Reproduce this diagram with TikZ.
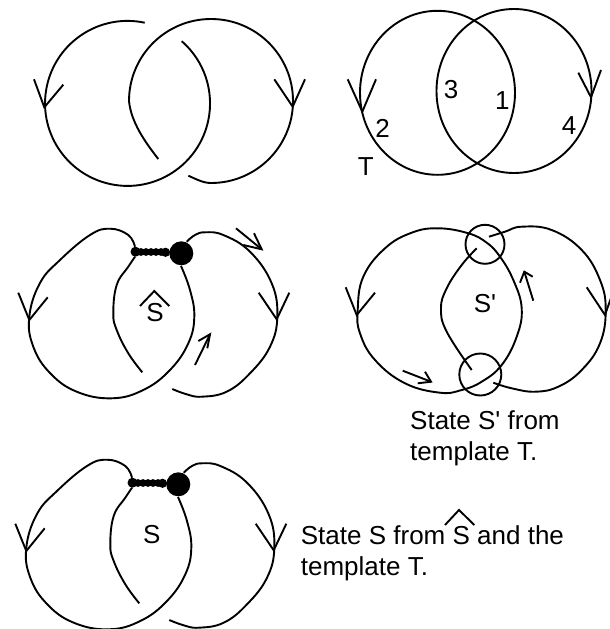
\documentclass[tikz,border=0pt]{standalone}
\usepackage{fontspec}
\newfontfamily\hv{Liberation Sans}
\tikzset{
  strand/.style={line width=1.9pt,line cap=butt,line join=miter},
  lbl/.style={inner sep=0pt,font=\hv\fontsize{26}{30}\selectfont},
  captext/.style={inner sep=0pt,anchor=base west,font=\hv\fontsize{26}{30}\selectfont},
  blob/.style={fill=black,draw=none},
  curve/.style={smooth,tension=.7}
}
\newcommand{\knotshape}{%
    \draw[strand] plot[curve] coordinates {(135,246.7)(128.3,235)(110,228.7)(90,235)(60,260)(40,283)(29.3,316.7)(33.3,346.7)(50,373)(76.7,391.7)(111.7,398.3)(143.3,390)(170,370)(188.3,343.3)(194.3,316.7)(190,290)(181,266)};
    \draw[strand] plot[curve] coordinates {(135,256.7)(128.3,266.7)(116.7,285)(113.3,313.3)(116.7,330)(128.3,353.3)(142.3,372.3)};
    \draw[strand] plot[curve] coordinates {(172.3,389)(186.7,394.3)(201.7,396.7)(226.7,391.7)(250,373.3)(270,346.7)(277.3,316.7)(271.7,283.3)(250,251.7)(223.3,235)(205,232.3)(195,235)(186.7,241.7)};
    \fill[blob] (181.3,253.3) circle[radius=12];
    \fill[blob] (135.5,251.7) circle[radius=5];
    \fill[blob] (165.5,252.3) circle[radius=4.6];
    \foreach \bx in {141,146,151,156,161}{\fill[blob] (\bx,252) circle[radius=3.9];}
    \draw[strand] (18.3,292.7) -- (29.3,320) -- (47.7,297.3);
    \draw[strand] (258.7,292.7) -- (276.7,319.3) -- (289.3,292.7);
}
\begin{document}
\begin{tikzpicture}[x=1pt,y=1pt,yscale=-1]
\useasboundingbox (0,0) rectangle (610,629);
\clip (0,0) rectangle (610,629);
% panel 1
\draw[strand] (144.7,22.7) arc[start angle=-78,end angle=-409,radius=82.5];
\draw[strand] (188.3,175.7) .. controls (196,179) and (203,183) .. (211,183) arc[start angle=90,end angle=-180,radius=82] .. controls (131,122) and (145,142) .. (158.3,159);
\draw[strand] (34,79.3) -- (44.3,107.3) -- (63.3,84.7);
\draw[strand] (274.3,79.3) -- (292.7,106.7) -- (305,79.3);
% panel 2
\draw[strand] (437.5,92.8) ellipse[x radius=77.5,y radius=82];
\draw[strand] (514,91) ellipse[x radius=77.5,y radius=82];
\draw[strand] (347.7,79.3) -- (362.3,111.7) -- (376,79.3);
\draw[strand] (578.3,72.7) -- (591,97.3) -- (601,70);
\node[lbl] (n3) at (451,90) {3};
\node[lbl] (n1) at (502.3,101) {1};
\node[lbl] (n2) at (382.7,128) {2};
\node[lbl] (n4) at (569,125.7) {4};
\node[lbl] (nT) at (365.7,166.7) {T};
% panel 3
\begin{scope}
\knotshape
\end{scope}
\draw[strand] (236,228.3) -- (261.7,249.3);
\draw[strand] (243.3,245) -- (261.7,249.3) -- (254,233.3);
\draw[strand] (195,365) -- (210,334.3);
\draw[strand] (198.3,341) -- (210,334.3) -- (207.3,348.3);
\draw[strand] (140,306) -- (154.3,291) -- (169.3,306);
\node[lbl] (shat) at (155,312.7) {S};
% panel 4
\draw[strand] plot[curve] coordinates {(489,236.7)(505,231.7)(521.7,226.7)(551.7,230)(581.7,250)(600,280)(605.7,310)(600,343.3)(581.7,370)(558.3,386.7)(535,391.7)(511.7,388.3)(493.3,382.7)};
\draw[strand] plot[smooth cycle,tension=.7] coordinates {(438.3,228.3)(468.3,233.3)(486.7,242.7)(500,256.7)(513.3,280)(521.7,308.3)(516.7,336.7)(501.7,365)(481.7,381.7)(461.7,390)(440,392.7)(405,383.3)(375,360)(360,333.3)(357.7,310)(363.3,276.7)(385,248.3)(411.7,232.7)};
\draw[strand] plot[curve] coordinates {(476.7,248.3)(461.7,265)(446.7,288.3)(441,308.3)(446.7,331.7)(471.7,370)};
\draw[strand] (485,244.3) circle[radius=19.5];
\draw[strand] (480.3,374.5) circle[radius=21];
\draw[strand] (345.7,287.3) -- (356.7,315) -- (375,292.7);
\draw[strand] (586.7,287.3) -- (605,315) -- (612,295);
\draw[strand] (402.7,370.7) -- (431,381.7);
\draw[strand] (425,371.7) -- (431,381.7) -- (417.7,383.3);
\draw[strand] (533.3,300.7) -- (524.3,271.7);
\draw[strand] (520,282.7) -- (524.3,271.7) -- (532.7,276.7);
\node[lbl] (sprime) at (485,303.3) {S'};
\node[captext] (c1) at (410,429.5) {State S' from};
\node[captext] (c2) at (410,460.7) {template T.};
% panel 5
\begin{scope}[shift={(-3,231)}]
\knotshape
\end{scope}
\node[lbl] (s) at (151.7,535) {S};
\node[captext] (c3) at (300.7,544) {State S from S and the};
\node[captext] (c4) at (300.7,575.7) {template T.};
\draw[strand] (445,525) -- (459,510) -- (474.3,525);
\end{tikzpicture}
\end{document}
